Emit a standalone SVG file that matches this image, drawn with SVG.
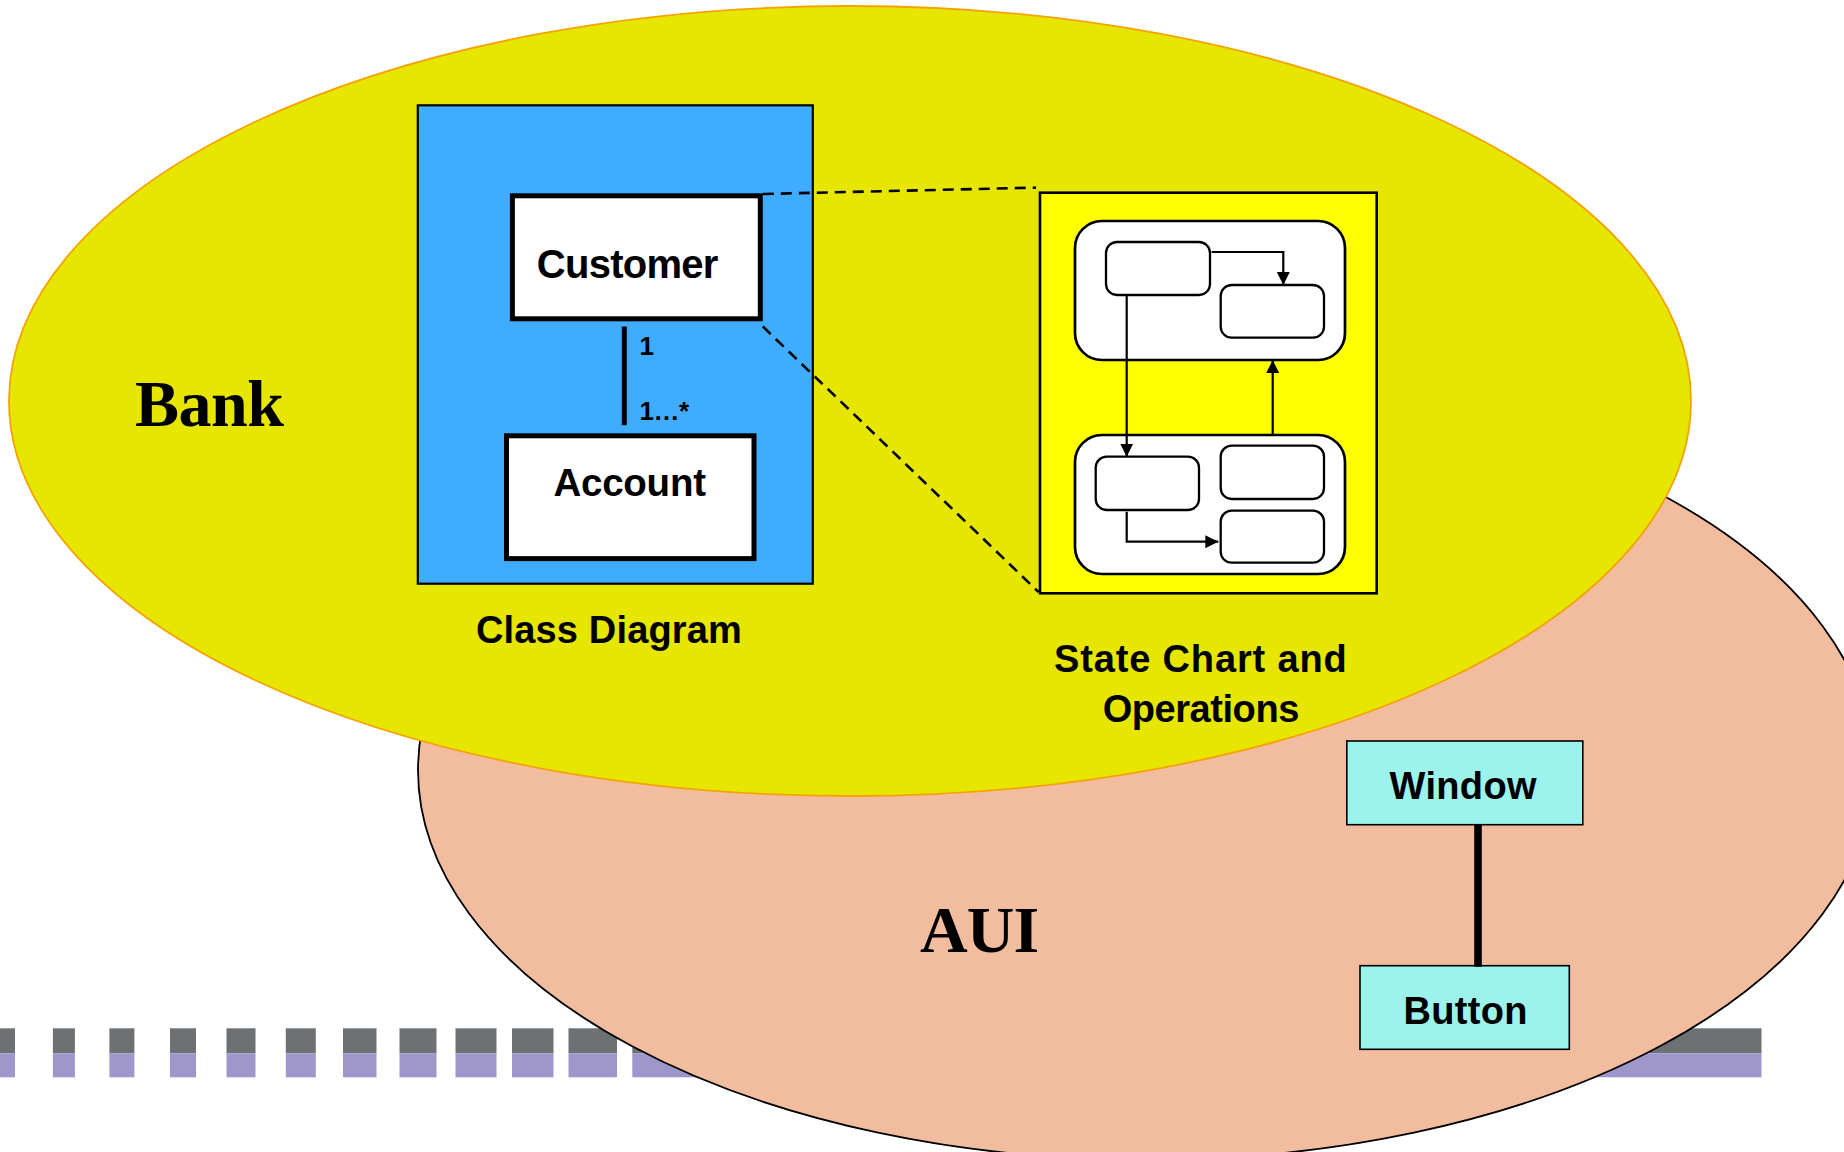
<svg xmlns="http://www.w3.org/2000/svg" width="1844" height="1152" viewBox="0 0 1844 1152">
  <style>
    .lbl { font-family: "Liberation Sans", Arial, sans-serif; font-weight: bold; fill: #000; }
    .big { font-family: "Liberation Serif", "Times New Roman", serif; font-weight: bold; font-size: 66px; fill: #000; }
    .gray { fill: #6d7174; }
    .purple { fill: #9f97cc; }
    .cls { fill: #ffffff; stroke: #000; stroke-width: 5; }
    .grp { fill: #ffffff; stroke: #000; stroke-width: 2.7; }
    .st { fill: #ffffff; stroke: #000; stroke-width: 2.3; }
    .tr { fill: none; stroke: #000; stroke-width: 2.2; marker-end: url(#arr); }
    .dash { fill: none; stroke: #000; stroke-width: 2.6; stroke-dasharray: 11 7; }
    .ui { fill: #9cf3ec; stroke: #000; stroke-width: 1.6; }
  </style>
  <defs>
    <marker id="arr" markerUnits="userSpaceOnUse" markerWidth="14" markerHeight="14" refX="13" refY="6.5" orient="auto">
      <path d="M0,0 L13,6.5 L0,13 Z" fill="#000"/>
    </marker>
  </defs>
  <rect x="0" y="0" width="1844" height="1152" fill="#ffffff"/>

  <g id="stripes">
    <g class="gray">
      <rect x="0" y="1028.3" width="15" height="25"/>
      <rect x="52.9" y="1028.3" width="22" height="25"/>
      <rect x="109.4" y="1028.3" width="25" height="25"/>
      <rect x="170" y="1028.3" width="26" height="25"/>
      <rect x="226.5" y="1028.3" width="29" height="25"/>
      <rect x="285.8" y="1028.3" width="30" height="25"/>
      <rect x="343" y="1028.3" width="33.5" height="25"/>
      <rect x="399.5" y="1028.3" width="37" height="25"/>
      <rect x="455.5" y="1028.3" width="41" height="25"/>
      <rect x="512" y="1028.3" width="41.5" height="25"/>
      <rect x="568.5" y="1028.3" width="48.5" height="25"/>
      <rect x="632.3" y="1028.3" width="1129.2" height="25"/>
    </g>
    <g class="purple">
      <rect x="0" y="1053.3" width="15" height="24"/>
      <rect x="52.9" y="1053.3" width="22" height="24"/>
      <rect x="109.4" y="1053.3" width="25" height="24"/>
      <rect x="170" y="1053.3" width="26" height="24"/>
      <rect x="226.5" y="1053.3" width="29" height="24"/>
      <rect x="285.8" y="1053.3" width="30" height="24"/>
      <rect x="343" y="1053.3" width="33.5" height="24"/>
      <rect x="399.5" y="1053.3" width="37" height="24"/>
      <rect x="455.5" y="1053.3" width="41" height="24"/>
      <rect x="512" y="1053.3" width="41.5" height="24"/>
      <rect x="568.5" y="1053.3" width="48.5" height="24"/>
      <rect x="632.3" y="1053.3" width="1129.2" height="24"/>
    </g>
  </g>

  <g id="aui">
    <ellipse cx="1146" cy="770" rx="728" ry="390" fill="#f2bc9e" stroke="#000" stroke-width="1.8"/>
    <text class="big" x="920" y="951.7" textLength="119.3">AUI</text>
  </g>

  <g id="bank">
    <ellipse cx="850" cy="401" rx="841" ry="395" fill="#e6e600" stroke="#f5a300" stroke-width="1.8"/>
    <text class="big" x="135" y="426" textLength="149">Bank</text>
  </g>

  <g id="class-diagram">
    <rect x="417.8" y="105.3" width="395" height="478.4" fill="#40acff" stroke="#000" stroke-width="2.2"/>
    <text class="lbl" x="475.9" y="643.4" font-size="38" textLength="266">Class Diagram</text>
  </g>

  <g id="customer">
    <rect class="cls" x="512.4" y="195.8" width="247.9" height="123"/>
    <text class="lbl" x="536.8" y="277.5" font-size="40" textLength="181.6">Customer</text>
  </g>

  <g id="account">
    <rect class="cls" x="506.5" y="435.8" width="247.5" height="122.8"/>
    <text class="lbl" x="553.4" y="496.4" font-size="38.5" textLength="152.6">Account</text>
  </g>

  <g id="state-chart">
    <rect x="1040" y="192.7" width="336.7" height="400.6" fill="#ffff00" stroke="#000" stroke-width="2.6"/>
    <rect class="grp" x="1075" y="221" width="270" height="139" rx="27" ry="27"/>
    <rect class="grp" x="1075" y="435" width="270" height="139" rx="27" ry="27"/>
    <rect class="st" x="1106" y="242" width="104" height="53" rx="11" ry="11"/>
    <rect class="st" x="1220.7" y="285" width="103.3" height="52.7" rx="11" ry="11"/>
    <rect class="st" x="1095.7" y="456.7" width="103.3" height="53.3" rx="11" ry="11"/>
    <rect class="st" x="1220.7" y="445.7" width="103.3" height="53.3" rx="11" ry="11"/>
    <rect class="st" x="1220.7" y="510.7" width="103.3" height="52" rx="11" ry="11"/>
    <text class="lbl" x="1054" y="672.3" font-size="38" textLength="292.7">State Chart and</text>
    <text class="lbl" x="1102.7" y="721.7" font-size="38" textLength="196.6">Operations</text>
  </g>

  <g id="window">
    <rect class="ui" x="1346.8" y="741" width="236" height="83.7"/>
    <text class="lbl" x="1389.5" y="799.3" font-size="38" textLength="147">Window</text>
  </g>

  <g id="button">
    <rect class="ui" x="1360" y="965.7" width="209.3" height="83.6"/>
    <text class="lbl" x="1403.4" y="1024.3" font-size="38" textLength="124">Button</text>
  </g>

  <g id="connectors">
    <line x1="624.3" y1="326.5" x2="624.3" y2="425.2" stroke="#000" stroke-width="5"/>
    <text class="lbl" x="639.6" y="354.8" font-size="26">1</text>
    <text class="lbl" x="639.6" y="419.9" font-size="26" textLength="49.4">1…*</text>
    <line class="dash" x1="762.8" y1="194" x2="1036" y2="187.6"/>
    <line class="dash" x1="762.8" y1="326.5" x2="1038.5" y2="592"/>
    <path class="tr" d="M1211.7,252 H1283.3 V285"/>
    <path class="tr" d="M1126.7,295 V456.7"/>
    <path class="tr" d="M1272.7,435 V360"/>
    <path class="tr" d="M1126.7,511.7 V541.7 H1218.3"/>
    <line x1="1478" y1="824.7" x2="1478" y2="966.7" stroke="#000" stroke-width="7.6"/>
  </g>
</svg>
